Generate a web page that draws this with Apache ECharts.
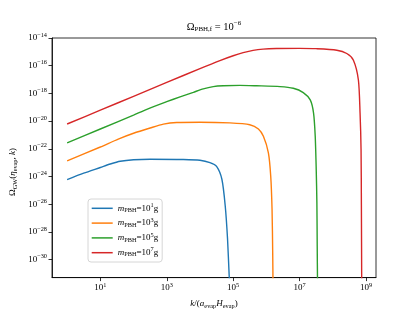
<!DOCTYPE html>
<html>
<head>
<meta charset="utf-8">
<script src="https://cdn.jsdelivr.net/npm/echarts@6/dist/echarts.min.js"></script>
<style>
html,body{margin:0;padding:0;background:#fff;}
#chart{width:418px;height:314px;}
</style>
</head>
<body>
<div id="chart"></div>
<script>
// All values are log10 exponents (axes are log10 scaled).
const massExps = [1, 3, 5, 7];
const seriesNames = ['m1', 'm3', 'm5', 'm7'];
const seriesColors = ['#1f77b4', '#ff7f0e', '#2ca02c', '#d62728'];

const m1LogK     = [0, 0.5, 1.0, 1.3, 1.6, 2.0, 2.5, 3.5, 4.0, 4.3, 4.5, 4.66, 4.76, 4.83, 4.88, 4.9];
const m1LogOmega = [-24.22, -23.76, -23.35, -23.1, -22.9, -22.79, -22.75, -22.77, -22.83, -23.0, -23.27, -24.2, -26.11, -28.5, -31.2, -32];

const m3LogK     = [0, 1.0, 1.54, 2.0, 2.5, 2.9, 3.3, 4.0, 4.9, 5.5, 5.76, 5.91, 6.06, 6.13, 6.17, 6.19, 6.2];
const m3LogOmega = [-22.87, -21.87, -21.3, -20.88, -20.5, -20.22, -20.1, -20.08, -20.13, -20.26, -20.57, -21.10, -22.29, -23.96, -26.35, -29.5, -32];

const m5LogK     = [0, 1.0, 2.0, 2.4, 3.0, 3.4, 3.8, 4.1, 4.4, 4.7, 5.2, 5.7, 6.41, 6.81, 7.11, 7.32, 7.42, 7.47, 7.50, 7.52, 7.53, 7.54];
const m5LogOmega = [-21.57, -20.57, -19.57, -19.15, -18.6, -18.25, -17.92, -17.67, -17.51, -17.45, -17.42, -17.45, -17.51, -17.63, -17.94, -18.47, -19.42, -21.10, -23.48, -25.87, -29.0, -32];

const m7LogK     = [0, 1.0, 2.0, 3.0, 4.0, 4.6, 5.0, 5.3, 5.6, 5.9, 6.3, 7.0, 7.5, 8.12, 8.42, 8.62, 8.77, 8.82, 8.85, 8.86, 8.87];
const m7LogOmega = [-20.21, -19.21, -18.21, -17.21, -16.21, -15.63, -15.28, -15.06, -14.89, -14.80, -14.76, -14.75, -14.77, -14.88, -15.12, -15.60, -17.03, -19.42, -22.05, -26.0, -32];

const xTickExps = [1, 3, 5, 7, 9];
const yTickExps = [-30, -28, -26, -24, -22, -20, -18, -16, -14];
const xRange = [-0.455, 9.30];
const yRange = [-31.30, -14];

const FF = '"Liberation Serif", "DejaVu Serif", serif';
const fmtExp = v => String(v).replace('-', '\u2212');

function richSet(base, small, supPad, subPad, lh) {
  return {
    o: { fontFamily: FF, fontSize: base, color: '#000', lineHeight: lh },
    i: { fontFamily: FF, fontSize: base, fontStyle: 'italic', color: '#000', lineHeight: lh },
    b: { fontFamily: FF, fontSize: base, color: '#000', lineHeight: lh },
    p: { fontFamily: FF, fontSize: small, color: '#000', lineHeight: lh, padding: [0, 0, supPad, 0] },
    s: { fontFamily: FF, fontSize: small, color: '#000', lineHeight: lh, padding: [subPad, 0, 0, 0] }
  };
}

const allK = [m1LogK, m3LogK, m5LogK, m7LogK];
const allO = [m1LogOmega, m3LogOmega, m5LogOmega, m7LogOmega];

const series = seriesNames.map((name, idx) => ({
  name: name,
  type: 'line',
  data: allK[idx].map((k, j) => [k, allO[idx][j]]),
  showSymbol: false,
  symbol: 'none',
  smooth: 0.25,
  clip: true,
  lineStyle: { width: 1.4, color: seriesColors[idx] },
  itemStyle: { color: seriesColors[idx] },
  z: 3
}));

const chart = echarts.init(document.getElementById('chart'));
chart.setOption({
  animation: false,
  backgroundColor: '#fff',
  grid: { left: 52, right: 42, top: 38, bottom: 35, show: true, borderColor: '#000', borderWidth: 0.8, backgroundColor: 'transparent' },
  xAxis: {
    type: 'value', min: xRange[0], max: xRange[1],
    axisLine: { show: true, onZero: false, lineStyle: { color: '#000', width: 0.8 } },
    splitLine: { show: false },
    axisTick: { show: true, inside: false, length: 3.5, lineStyle: { color: '#000', width: 0.8 }, customValues: xTickExps },
    axisLabel: {
      margin: 5, customValues: xTickExps,
      formatter: v => '{b|10}{p|' + fmtExp(v) + '}',
      rich: richSet(9, 6.3, 6, 4, 11)
    },
    name: '{i|k}{o|/(}{i|a}{s|evap}{i|H}{s|evap}{o|)}',
    nameLocation: 'middle', nameGap: 17,
    nameTextStyle: { rich: richSet(9, 6.3, 6, 4, 12) }
  },
  yAxis: {
    type: 'value', min: yRange[0], max: yRange[1],
    axisLine: { show: true, onZero: false, lineStyle: { color: '#000', width: 0.8 } },
    splitLine: { show: false },
    axisTick: { show: true, inside: false, length: 3.5, lineStyle: { color: '#000', width: 0.8 }, customValues: yTickExps },
    axisLabel: {
      margin: 5, customValues: yTickExps,
      formatter: v => '{b|10}{p|' + fmtExp(v) + '}',
      rich: richSet(9, 6.3, 6, 4, 11)
    }
  },
  legend: {
    orient: 'vertical', left: 88, top: 199,
    data: seriesNames,
    icon: 'rect', itemWidth: 21, itemHeight: 1.5, itemGap: 2.8,
    padding: [3.3, 4, 3.3, 3.7],
    backgroundColor: 'rgba(255,255,255,0.85)',
    borderColor: '#cccccc', borderWidth: 0.8, borderRadius: 3,
    formatter: name => {
      const e = massExps[seriesNames.indexOf(name)];
      return '{i|m}{s|PBH}{o|=10}{p|' + e + '}{o|g}';
    },
    textStyle: { rich: richSet(9, 6.3, 6, 4, 12) }
  },
  graphic: [
    {
      type: 'text', x: 214, y: 27,
      style: {
        text: '{o|\u03A9}{s|PBH,f}{o| = 10}{p|\u22126}',
        align: 'center', verticalAlign: 'middle',
        rich: richSet(10.5, 7, 7, 5, 13)
      }
    },
    {
      type: 'text', x: 13, y: 172, rotation: Math.PI / 2,
      style: {
        text: '{o|\u03A9}{s|GW}{o|(}{i|\u03B7}{s|evap}{o|, }{i|k}{o|)}',
        align: 'center', verticalAlign: 'middle',
        rich: richSet(9, 6.3, 6, 4, 12)
      }
    }
  ],
  series: series
});
</script>
</body>
</html>
